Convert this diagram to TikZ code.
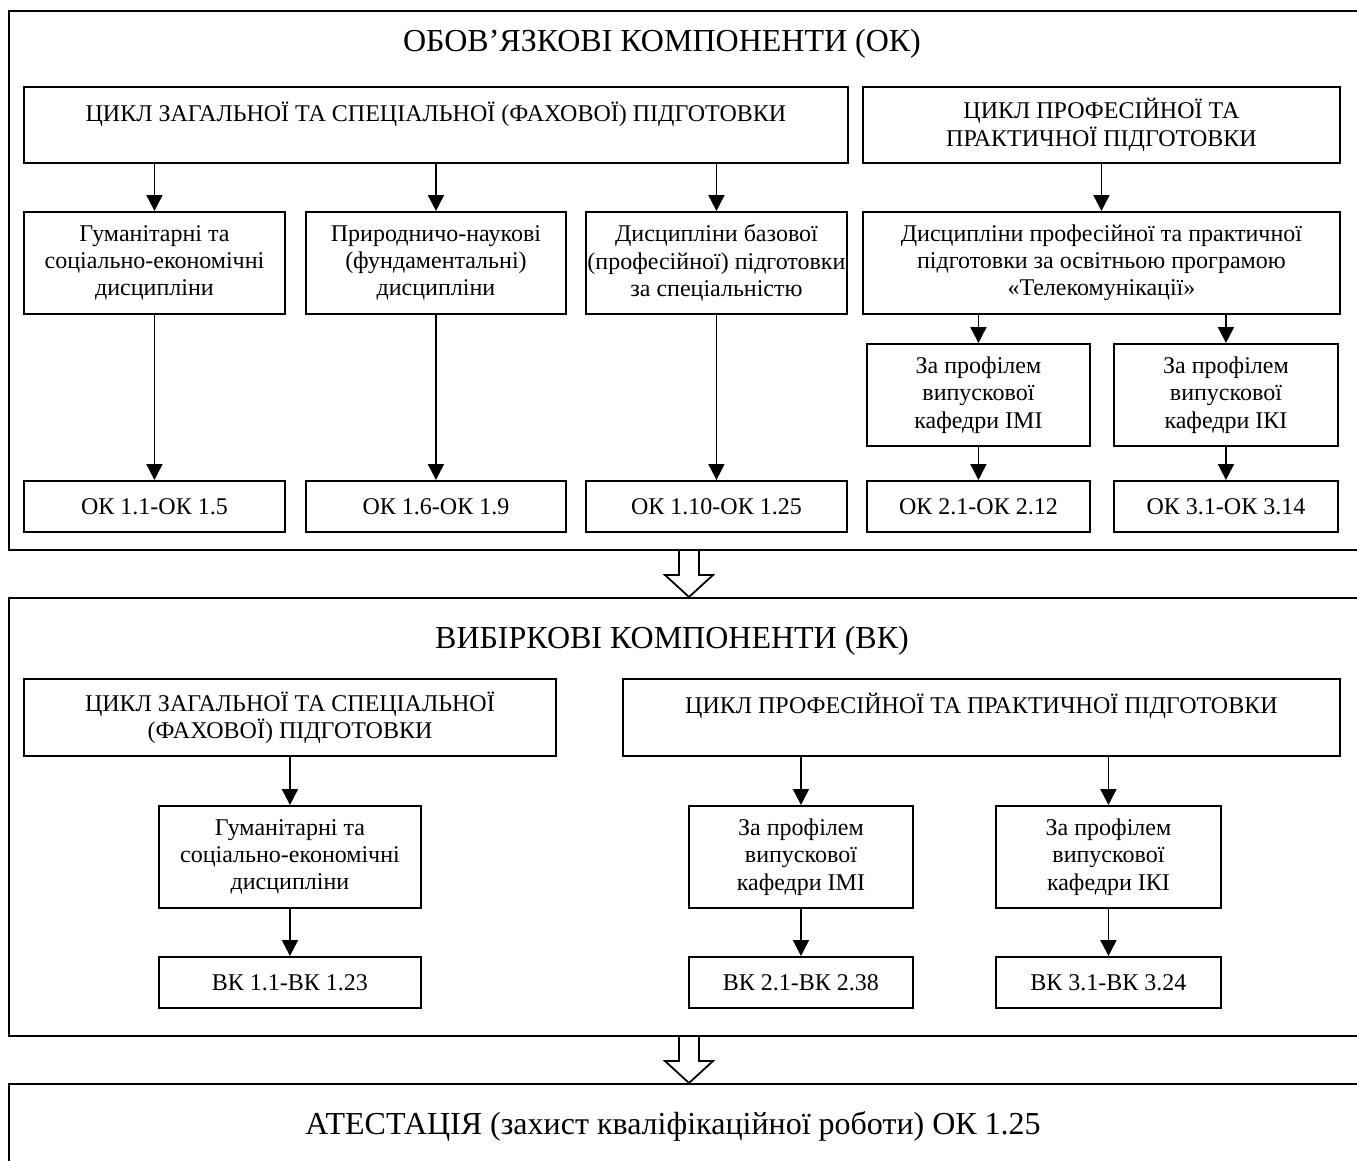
\documentclass[tikz,border=0pt]{standalone}
\usepackage{fontspec}
\setmainfont{Liberation Serif}
\usepackage{tikz}
\usetikzlibrary{positioning,arrows.meta,calc}

\newcommand{\boxfont}{\fontsize{24}{27.3}\selectfont}
\newcommand{\ttlfont}{\fontsize{32}{36}\selectfont}

\begin{document}
\begin{tikzpicture}[x=1pt,y=-1pt,
  outer/.style={draw,line width=2pt,anchor=north west,inner sep=0pt,minimum width=1360},
  blk/.style={draw,line width=1.9pt,anchor=north west,inner sep=0pt,align=center,font=\boxfont},
  ttl/.style={anchor=base,inner sep=0pt,font=\ttlfont},
  arr/.style={-{Triangle[length=16pt,width=16pt]},line width=1.9pt},
  hollow/.style={draw,line width=1.8pt,fill=white}]
  \useasboundingbox (0,0) rectangle (1357,1160);

  % obov'yazkovi komponenty
  \node[outer,minimum height=539] (ok) at (8,10) {};
  \node[ttl] (okt) at (662,51) {ОБОВ’ЯЗКОВІ КОМПОНЕНТИ (ОК)};
  \node[blk,minimum width=824,minimum height=76] (okA) at (23,86) {ЦИКЛ ЗАГАЛЬНОЇ ТА СПЕЦІАЛЬНОЇ (ФАХОВОЇ) ПІДГОТОВКИ\\ \mbox{}};
  \node[blk,minimum width=477,minimum height=76] (okB) at (862,86) {ЦИКЛ ПРОФЕСІЙНОЇ ТА\\ ПРАКТИЧНОЇ ПІДГОТОВКИ};
  \node[blk,minimum width=261,minimum height=102] (okA1) at (23,211) {Гуманітарні та\\ соціально-економічні\\ дисципліни};
  \node[blk,minimum width=260,minimum height=102] (okA2) at (305,211) {Природничо-наукові\\ (фундаментальні)\\ дисципліни};
  \node[blk,minimum width=261,minimum height=102] (okA3) at (585,211) {Дисципліни базової\\ (професійної) підготовки\\ за спеціальністю};
  \node[blk,minimum width=477,minimum height=102] (okB1) at (862,211) {Дисципліни професійної та практичної\\ підготовки за освітньою програмою\\ «Телекомунікації»};
  \node[blk,minimum width=223,minimum height=102] (okB1a) at (866,343) {За профілем\\ випускової\\ кафедри ІМІ};
  \node[blk,minimum width=224,minimum height=102] (okB1b) at (1113,343) {За профілем\\ випускової\\ кафедри ІКІ};
  \node[blk,minimum width=261,minimum height=51] (okR1) at (23,480) {ОК 1.1-ОК 1.5};
  \node[blk,minimum width=260,minimum height=51] (okR2) at (305,480) {ОК 1.6-ОК 1.9};
  \node[blk,minimum width=261,minimum height=51] (okR3) at (585,480) {ОК 1.10-ОК 1.25};
  \node[blk,minimum width=223,minimum height=51] (okR4) at (866,480) {ОК 2.1-ОК 2.12};
  \node[blk,minimum width=224,minimum height=51] (okR5) at (1113,480) {ОК 3.1-ОК 3.14};

  \foreach \a/\b in {okA/okA1,okA/okA2,okA/okA3,okB/okB1,okB1/okB1a,okB1/okB1b,
                     okA1/okR1,okA2/okR2,okA3/okR3,okB1a/okR4,okB1b/okR5}
    \draw[arr] (\a.south -| \b.north) -- (\b.north);

  % vybirkovi komponenty
  \node[outer,minimum height=438] (vk) at (8,597) {};
  \node[ttl] (vkt) at (672,648) {ВИБІРКОВІ КОМПОНЕНТИ (ВК)};
  \node[blk,minimum width=532,minimum height=77] (vkA) at (23,678) {ЦИКЛ ЗАГАЛЬНОЇ ТА СПЕЦІАЛЬНОЇ\\ (ФАХОВОЇ) ПІДГОТОВКИ};
  \node[blk,minimum width=717,minimum height=77] (vkB) at (622,678) {ЦИКЛ ПРОФЕСІЙНОЇ ТА ПРАКТИЧНОЇ ПІДГОТОВКИ\\ \mbox{}};
  \node[blk,minimum width=262,minimum height=102] (vkA1) at (158,805) {Гуманітарні та\\ соціально-економічні\\ дисципліни};
  \node[blk,minimum width=224,minimum height=102] (vkB1) at (688,805) {За профілем\\ випускової\\ кафедри ІМІ};
  \node[blk,minimum width=225,minimum height=102] (vkB2) at (995,805) {За профілем\\ випускової\\ кафедри ІКІ};
  \node[blk,minimum width=262,minimum height=51] (vkR1) at (158,956) {ВК 1.1-ВК 1.23};
  \node[blk,minimum width=224,minimum height=51] (vkR2) at (688,956) {ВК 2.1-ВК 2.38};
  \node[blk,minimum width=225,minimum height=51] (vkR3) at (995,956) {ВК 3.1-ВК 3.24};

  \foreach \a/\b in {vkA/vkA1,vkB/vkB1,vkB/vkB2,vkA1/vkR1,vkB1/vkR2,vkB2/vkR3}
    \draw[arr] (\a.south -| \b.north) -- (\b.north);

  % atestatsiya
  \node[outer,minimum height=120] (att) at (8,1083) {};
  \node[ttl] (attt) at (673,1134) {АТЕСТАЦІЯ (захист кваліфікаційної роботи) ОК 1.25};

  % hollow arrows between blocks
  \foreach \a/\b in {ok/vk,vk/att}
    \draw[hollow] ($(\a.south)+(-10,0)$) |- ($(\b.north)+(-24,-22)$) -- (\b.north)
      -- ($(\b.north)+(24,-22)$) -| ($(\a.south)+(10,0)$);
\end{tikzpicture}
\end{document}
